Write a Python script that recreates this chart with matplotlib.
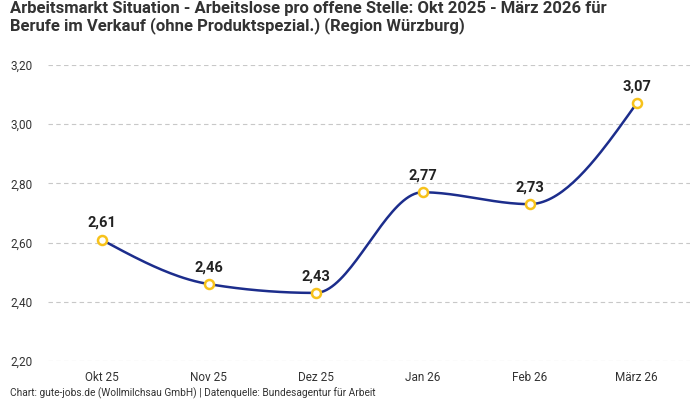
import numpy as np
import matplotlib
matplotlib.use("Agg")
import matplotlib.pyplot as plt

plt.rcParams['font.family'] = ['Roboto', 'DejaVu Sans']

categories = ["Okt 25", "Nov 25", "Dez 25", "Jan 26", "Feb 26", "März 26"]
values = [2.61, 2.46, 2.43, 2.77, 2.73, 3.07]
yticks = [2.20, 2.40, 2.60, 2.80, 3.00, 3.20]
title = ("Arbeitsmarkt Situation - Arbeitslose pro offene Stelle: Okt 2025 - März 2026 für\n"
         "Berufe im Verkauf (ohne Produktspezial.) (Region Würzburg)")
footer = "Chart: gute-jobs.de (Wollmilchsau GmbH) | Datenquelle: Bundesagentur für Arbeit"

LINE = "#1c2d8c"
MARK = "#f7c21b"


def monotone_curve(x, y, n=40):
    x = np.asarray(x, float)
    y = np.asarray(y, float)
    h = np.diff(x)
    s = np.diff(y) / h
    m = np.zeros_like(y)
    for i in range(1, len(y) - 1):
        if s[i - 1] * s[i] <= 0:
            m[i] = 0
        else:
            p = (s[i - 1] * h[i] + s[i] * h[i - 1]) / (h[i - 1] + h[i])
            m[i] = (np.sign(s[i - 1]) + np.sign(s[i])) * min(abs(s[i - 1]), abs(s[i]), 0.5 * abs(p))
    m[0] = (3 * s[0] - m[1]) / 2 if len(y) > 2 else s[0]
    m[-1] = (3 * s[-1] - m[-2]) / 2 if len(y) > 2 else s[-1]
    xs, ys = [], []
    for i in range(len(x) - 1):
        t = np.linspace(0, 1, n)
        hh = h[i]
        h00 = 2 * t**3 - 3 * t**2 + 1
        h10 = t**3 - 2 * t**2 + t
        h01 = -2 * t**3 + 3 * t**2
        h11 = t**3 - t**2
        xs.append(x[i] + t * hh)
        ys.append(h00 * y[i] + h10 * hh * m[i] + h01 * y[i + 1] + h11 * hh * m[i + 1])
    return np.concatenate(xs), np.concatenate(ys)


fig = plt.figure(figsize=(7, 4), dpi=100)
ax = fig.add_axes([48 / 700, 39 / 400, 642 / 700, 296 / 400])

xpos = np.arange(len(categories))
cx, cy = monotone_curve(xpos, values)
ax.plot(cx, cy, color=LINE, lw=1.8, zorder=3)
ax.scatter(xpos, values, s=42, facecolor="white", edgecolor=MARK, linewidth=1.8, zorder=4)
for xi, v in zip(xpos, values):
    ax.annotate(f"{v:.2f}".replace(".", ","), (xi, v), xytext=(0, 7), textcoords="offset points",
                ha="center", va="bottom", fontsize=10.5, fontweight="bold", color="#222222")

ax.set_xlim(-0.5, len(categories) - 0.5)
ax.set_ylim(2.20, 3.20)
ax.set_yticks(yticks)
ax.set_yticklabels([f"{t:.2f}".replace(".", ",") for t in yticks])
ax.set_xticks(xpos)
ax.set_xticklabels(categories)
ax.tick_params(axis="both", length=0, labelsize=8.5, colors="#333333")
ax.tick_params(axis="y", pad=11)
ax.tick_params(axis="x", pad=7)
ax.grid(axis="y", color="#c8c8c8", linestyle=(0, (4, 3)), linewidth=0.8)
ax.set_axisbelow(True)
for sp in ax.spines.values():
    sp.set_visible(False)

fig.text(10 / 700, 1 - 1 / 400, title, ha="left", va="top", fontsize=12, fontweight="bold",
         color="#333333", linespacing=1.1)
fig.text(10 / 700, 1 - 393 / 400, footer, ha="left", va="center", fontsize=7.3, color="#333333")

fig.savefig("out.png", dpi=100)
